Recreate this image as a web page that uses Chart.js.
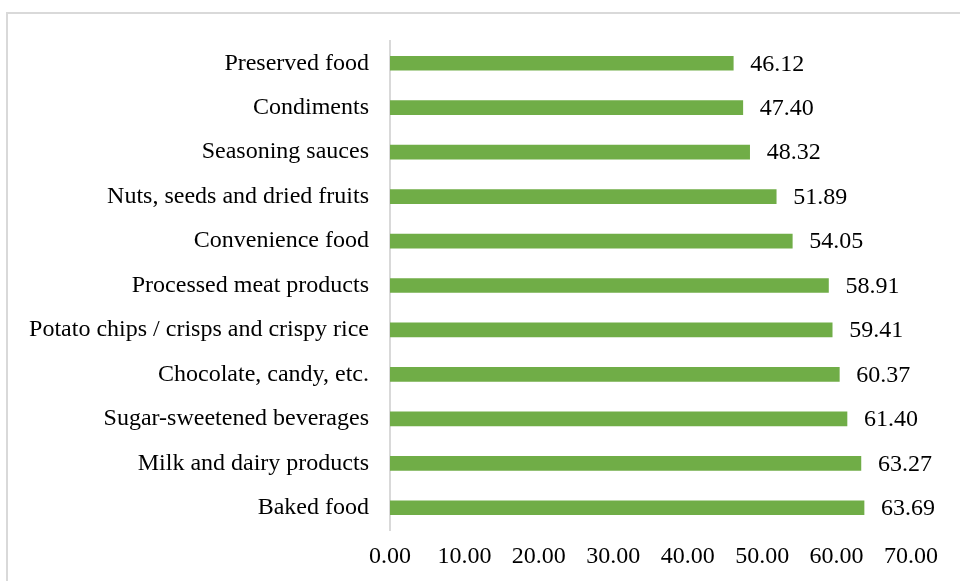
<!DOCTYPE html>
<html>
<head>
<meta charset="utf-8">
<script src="https://cdn.jsdelivr.net/npm/chart.js@4"></script>
<style>
  html, body { margin: 0; padding: 0; background: #fff; overflow: hidden; }
  #frame { position: absolute; left: 6px; top: 12px; width: 980px; height: 600px; border: 2px solid #d9d9d9; box-sizing: border-box; }
  #wrap { position: absolute; left: 0; top: 0; width: 960px; height: 581px; }
</style>
</head>
<body>
<div id="frame"></div>
<div id="wrap"><canvas id="chart"></canvas></div>
<script>
// categorias, de cima para baixo
const categories = [
  'Preserved food',
  'Condiments',
  'Seasoning sauces',
  'Nuts, seeds and dried fruits',
  'Convenience food',
  'Processed meat products',
  'Potato chips / crisps and crispy rice',
  'Chocolate, candy, etc.',
  'Sugar-sweetened beverages',
  'Milk and dairy products',
  'Baked food'
];
const values = [46.12, 47.40, 48.32, 51.89, 54.05, 58.91, 59.41, 60.37, 61.40, 63.27, 63.69];
const xTicks = [0, 10, 20, 30, 40, 50, 60, 70];

const serif = "'Liberation Serif', 'Times New Roman', serif";

// rótulos de valor no fim de cada barra
const valueLabels = {
  id: 'valueLabels',
  afterDatasetsDraw(chart) {
    const ctx = chart.ctx;
    const meta = chart.getDatasetMeta(0);
    ctx.save();
    ctx.font = '24px ' + serif;
    ctx.fillStyle = '#000';
    ctx.textAlign = 'left';
    ctx.textBaseline = 'middle';
    meta.data.forEach((bar, i) => {
      ctx.fillText(values[i].toFixed(2), bar.x + 17, bar.y + 1);
    });
    ctx.restore();
  }
};

new Chart(document.getElementById('chart'), {
  type: 'bar',
  data: {
    labels: categories,
    datasets: [{
      data: values,
      backgroundColor: '#70AD47',
      barThickness: 14
    }]
  },
  options: {
    indexAxis: 'y',
    responsive: true,
    maintainAspectRatio: false,
    animation: false,
    layout: { padding: { top: 41, right: 49, bottom: 0, left: 0 } },
    plugins: { legend: { display: false }, tooltip: { enabled: false } },
    scales: {
      x: {
        min: 0,
        max: 70,
        afterBuildTicks: s => { s.ticks = xTicks.map(v => ({ value: v })); },
        afterFit: s => { s.height = 51; },
        grid: { display: false },
        border: { display: false },
        ticks: {
          color: '#000',
          font: { family: serif, size: 24 },
          padding: 4,
          maxRotation: 0,
          callback: v => Number(v).toFixed(2)
        }
      },
      y: {
        afterFit: s => { s.width = 390; },
        grid: { display: false },
        border: { display: true, color: '#d9d9d9', width: 2 },
        ticks: {
          color: '#000',
          font: { family: serif, size: 24 },
          padding: 13
        }
      }
    }
  },
  plugins: [valueLabels]
});
</script>
</body>
</html>
